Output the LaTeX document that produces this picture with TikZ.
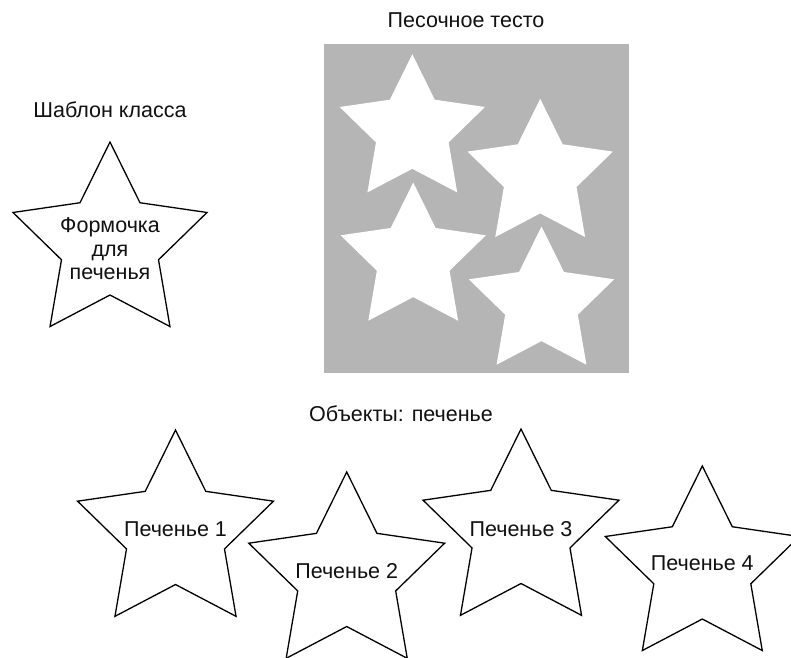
\documentclass[tikz,border=0pt]{standalone}
\usepackage{fontspec}
\setmainfont{Liberation Sans}
\definecolor{doughgray}{HTML}{B5B5B5}
\definecolor{inkcol}{HTML}{111111}
\newcommand\cookieshape[3]{%
  \path[#3] ([shift={(-90:#2)}]#1)
    \foreach \k in {0,...,3}{
      -- ([shift={(-54+72*\k:0.5*#2)}]#1)
      -- ([shift={(-18+72*\k:#2)}]#1)}
    -- ([shift={(234:0.5*#2)}]#1) -- cycle;}
\begin{document}
\begin{tikzpicture}[x=1pt,y=-1pt,
  outline/.style={draw=black,line width=1.3pt,line join=miter,fill=white},
  cutout/.style={fill=white},
  lbl/.style={font=\fontsize{21.5}{23.5}\selectfont,text=inkcol,inner sep=0pt,anchor=base},
  multilbl/.style={font=\fontsize{21.5}{23.5}\selectfont,text=inkcol,inner sep=0pt,align=center}]
\useasboundingbox[fill=white] (0,0) rectangle (791,657);
% titles
\node[lbl] (ttemplate) at (110,117) {Шаблон класса};
\node[lbl] (tdough) at (466,27.3) {Песочное тесто};
\node[lbl] (tobjects) at (401,421.7) {Объекты: печенье};
% template star
\coordinate (s0) at (110,244);
\cookieshape{s0}{102}{outline}
\node[multilbl,anchor=center] (l0) at (110,249) {Формочка\\для\\печенья};
% dough
\fill[doughgray] (324,43.5) rectangle (629,373);
\coordinate (dA) at (412.3,130.6);
\coordinate (dB) at (540.2,175.2);
\coordinate (dC) at (413.2,258.9);
\coordinate (dD) at (541.5,302.9);
\cookieshape{dA}{76.4}{cutout}
\cookieshape{dB}{76.4}{cutout}
\cookieshape{dC}{76.4}{cutout}
\cookieshape{dD}{76.4}{cutout}
% cookies
\coordinate (c1) at (175.5,533);
\coordinate (c2) at (346.7,575);
\coordinate (c3) at (521,532);
\coordinate (c4) at (702.3,568);
\cookieshape{c1}{103}{outline}
\cookieshape{c2}{103}{outline}
\cookieshape{c3}{103}{outline}
\cookieshape{c4}{102}{outline}
\node[lbl] (l1) at ([yshift=-3]c1) {Печенье 1};
\node[lbl] (l2) at ([yshift=-3]c2) {Печенье 2};
\node[lbl] (l3) at ([yshift=-4]c3) {Печенье 3};
\node[lbl] (l4) at ([yshift=-2.5]c4) {Печенье 4};
\end{tikzpicture}
\end{document}
